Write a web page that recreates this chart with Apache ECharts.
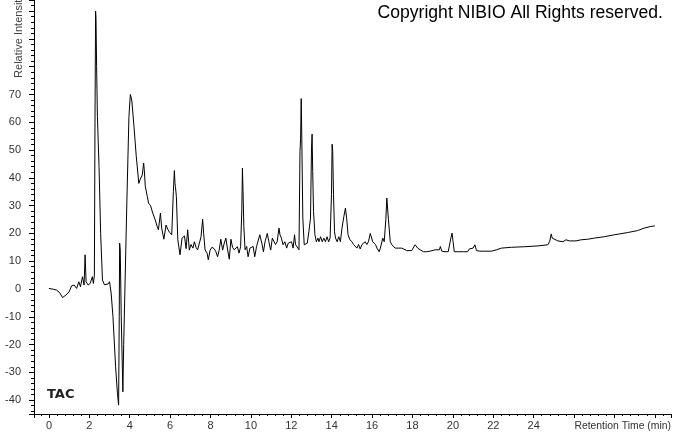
<!DOCTYPE html>
<html>
<head>
<meta charset="utf-8">
<script src="https://cdn.jsdelivr.net/npm/echarts@6/dist/echarts.min.js"></script>
<style>
html,body{margin:0;padding:0;background:#fff;}
#chart{width:674px;height:434px;}
</style>
</head>
<body>
<div id="chart"></div>
<script>
// Retention time (min)
const retentionTime = [
0.00,0.21,0.38,0.54,0.67,0.84,1.00,1.12,1.25,1.37,1.48,1.56,1.66,1.74,1.79,1.84,1.94,2.04,2.10,2.15,2.20,2.25,
2.28,2.31,2.33,2.36,2.40,2.48,2.56,2.65,2.75,2.93,3.00,3.08,3.17,3.30,3.39,3.45,3.48,3.50,3.53,3.58,3.66,3.70,3.75,
3.86,3.96,4.03,4.10,4.21,4.32,4.45,4.52,4.62,4.69,4.72,4.77,4.87,4.93,5.03,5.14,5.26,5.36,5.42,5.52,5.58,5.69,5.80,
5.88,5.98,6.08,6.16,6.21,6.24,6.26,6.31,6.38,6.49,6.59,6.71,6.79,6.87,6.95,7.03,7.13,7.20,7.28,7.36,7.45,7.53,7.61,
7.66,7.73,7.83,7.89,7.98,8.07,8.18,8.26,8.35,8.43,8.51,8.60,8.68,8.76,8.85,8.93,9.01,9.09,9.17,9.25,9.33,9.41,9.49,
9.55,9.58,9.61,9.65,9.71,9.79,9.86,9.95,10.03,10.11,10.19,10.28,10.37,10.44,10.54,10.62,10.70,10.81,10.89,10.98,
11.06,11.14,11.22,11.30,11.39,11.44,11.51,11.59,11.68,11.77,11.85,11.93,12.01,12.09,12.16,12.21,12.29,12.38,12.43,
12.46,12.49,12.52,12.57,12.64,12.71,12.79,12.87,12.95,13.00,13.03,13.06,13.10,13.17,13.24,13.32,13.37,13.45,13.53,
13.61,13.69,13.77,13.85,13.92,13.99,14.02,14.05,14.09,14.14,14.19,14.27,14.35,14.43,14.51,14.60,14.68,14.74,14.81,
14.90,15.00,15.08,15.16,15.25,15.33,15.41,15.50,15.58,15.66,15.74,15.82,15.91,15.96,16.03,16.12,16.17,16.24,16.32,
16.35,16.41,16.53,16.60,16.68,16.73,16.76,16.81,16.90,16.98,17.06,17.14,17.30,17.47,17.55,17.71,17.80,17.96,18.05,
18.13,18.18,18.26,18.38,18.54,18.70,18.87,18.95,19.12,19.33,19.38,19.45,19.61,19.77,19.86,19.90,19.96,20.01,20.07,
20.27,20.52,20.73,20.81,20.89,21.00,21.09,21.17,21.33,21.58,21.91,22.16,22.24,22.40,22.48,22.90,23.55,24.21,24.70,
24.79,24.87,24.92,24.98,25.20,25.45,25.60,25.77,26.10,26.35,26.68,27.00,27.50,28.00,28.65,29.14,29.47,29.80,30.00
];
// Relative intensity
const intensity = [
0.2,-0.1,-0.4,-1.4,-3.1,-2.2,-1.0,1.1,1.4,0.2,2.6,0.8,4.4,1.4,12.3,2.6,1.4,2.0,1.4,4.4,2.0,5.0,
60,100,97,80,62,44,20,3.2,1.5,1.8,2.6,-1.5,-10,-28,-37.5,-41.8,-10,16.5,14,-10,-37,-20,-4,
32,62,70,68,58.5,48,38,39.5,41,45.3,43,36.9,33.3,30.9,30,27.3,24.9,22.5,21.3,27.3,22,17.9,23,
21.5,20.3,19.5,35,42.6,38,36.9,33.3,17.7,12.3,18.3,19.1,14.5,21.3,14,16,14.7,17,15,14.1,16.5,18.8,25.1,
20,14.1,12.9,10.5,14,15,14.5,13.5,11.6,14,17.9,14,16.5,18.3,14,10.7,17.9,15,14.1,14.1,15.2,12.9,15.2,
28.5,43.5,35,22.5,14.1,15.3,11.6,14.7,14.1,15.3,11.6,15.3,15.9,19.5,16.5,13.4,17,20,17,14,
18.3,18.8,16,17,21.9,19.5,18.3,15.9,17,14.7,16.5,16,17,14.7,19.5,16,15.3,14.1,49.5,
54,68.5,54.3,25.5,15.9,15.3,16.5,20.6,25.5,50.7,55.7,42.3,27.9,19.5,17,18.3,17,18.8,17,
18.3,17,18.8,17,18.3,33.9,52.1,49.5,33.9,20.6,18.3,17,18.8,17,21.9,26,29.1,25.5,19.5,
17.7,17,16,16.5,14.7,16,14.4,16,16.5,17,16,17,20,20.6,17,17.7,16,14.7,14.1,
13.4,14.7,18.3,17,24.9,32.7,32,24.9,17,15.9,16.2,14.7,14.7,14.7,14.1,13.8,13.4,13.8,13.8,
15.9,16.2,14.7,14.1,13.4,13.4,13.6,14.1,14.1,14.1,15.3,13.6,13.4,13.4,13.6,18.3,20.1,17,13.4,
13.4,13.4,13.4,14.4,13.8,14.7,15.9,13.8,13.6,13.6,13.6,14.1,14.1,14.7,14.1,15,15.2,15.5,15.9,
17,19.8,18.3,17.7,17.3,17,17.7,17.3,17.3,17.7,17.9,18.3,18.8,19.5,20.3,21,21.9,22.5,22.7
];
// Tick labels shown
const xTickLabels = [0,2,4,6,8,10,12,14,16,18,20,22,24];
const yTickLabels = [-40,-30,-20,-10,0,10,20,30,40,50,60,70];

const seriesData = retentionTime.map((t, i) => [t, intensity[i]]);

const chart = echarts.init(document.getElementById('chart'), null, {renderer: 'canvas'});
const labelFont = {color: '#333', fontSize: 11, fontFamily: 'Liberation Sans, Arial, sans-serif'};
chart.setOption({
  animation: false,
  backgroundColor: '#fff',
  title: {
    text: 'Copyright NIBIO All Rights reserved.',
    right: 11, top: 4, padding: 0,
    textStyle: {color: '#000', fontSize: 17.6, fontWeight: 'normal', fontFamily: 'Liberation Sans, Arial, sans-serif'}
  },
  grid: {left: 34, right: 1, top: 0, bottom: 20, containLabel: false},
  xAxis: {
    type: 'value', min: -0.74, max: 30.8, splitNumber: 16,
    name: 'Retention Time (min)', nameLocation: 'end', nameGap: 0,
    nameTextStyle: Object.assign({}, labelFont, {fontSize: 10.4, align: 'right', verticalAlign: 'top', padding: [7, 0, 0, 0]}),
    axisLine: {show: true, onZero: false, lineStyle: {color: '#000', width: 1}},
    axisTick: {show: true, length: 4, lineStyle: {color: '#000'}},
    minorTick: {show: true, splitNumber: 5, length: 2, lineStyle: {color: '#000'}},
    splitLine: {show: false},
    axisLabel: Object.assign({}, labelFont, {margin: 6, showMinLabel: true, showMaxLabel: true,
      formatter: v => xTickLabels.includes(Math.round(v * 1000) / 1000) ? String(v) : ''})
  },
  yAxis: {
    type: 'value', min: -45, max: 104, splitNumber: 15,
    axisLine: {show: true, onZero: false, lineStyle: {color: '#000', width: 1}},
    axisTick: {show: true, length: 5, lineStyle: {color: '#000'}},
    minorTick: {show: true, splitNumber: 5, length: 3, lineStyle: {color: '#000'}},
    splitLine: {show: false},
    axisLabel: Object.assign({}, labelFont, {margin: 13, showMinLabel: true, showMaxLabel: true,
      formatter: v => yTickLabels.includes(Math.round(v * 1000) / 1000) ? String(v) : ''})
  },
  graphic: [
    {type: 'text', x: 19, y: 36, rotation: Math.PI / 2,
     style: {text: 'Relative Intensity', fill: '#444', fontSize: 11, fontFamily: 'Liberation Sans, Arial, sans-serif', align: 'center', verticalAlign: 'middle'}},
    {type: 'text', left: 47, top: 388,
     style: {text: 'TAC', fill: '#222', fontSize: 13, fontWeight: 'bold', fontFamily: 'DejaVu Sans, Verdana, sans-serif'}}
  ],
  series: [{
    type: 'line', data: seriesData, showSymbol: false, symbol: 'none',
    lineStyle: {color: '#000', width: 1}, smooth: false, silent: true
  }]
});
</script>
</body>
</html>
